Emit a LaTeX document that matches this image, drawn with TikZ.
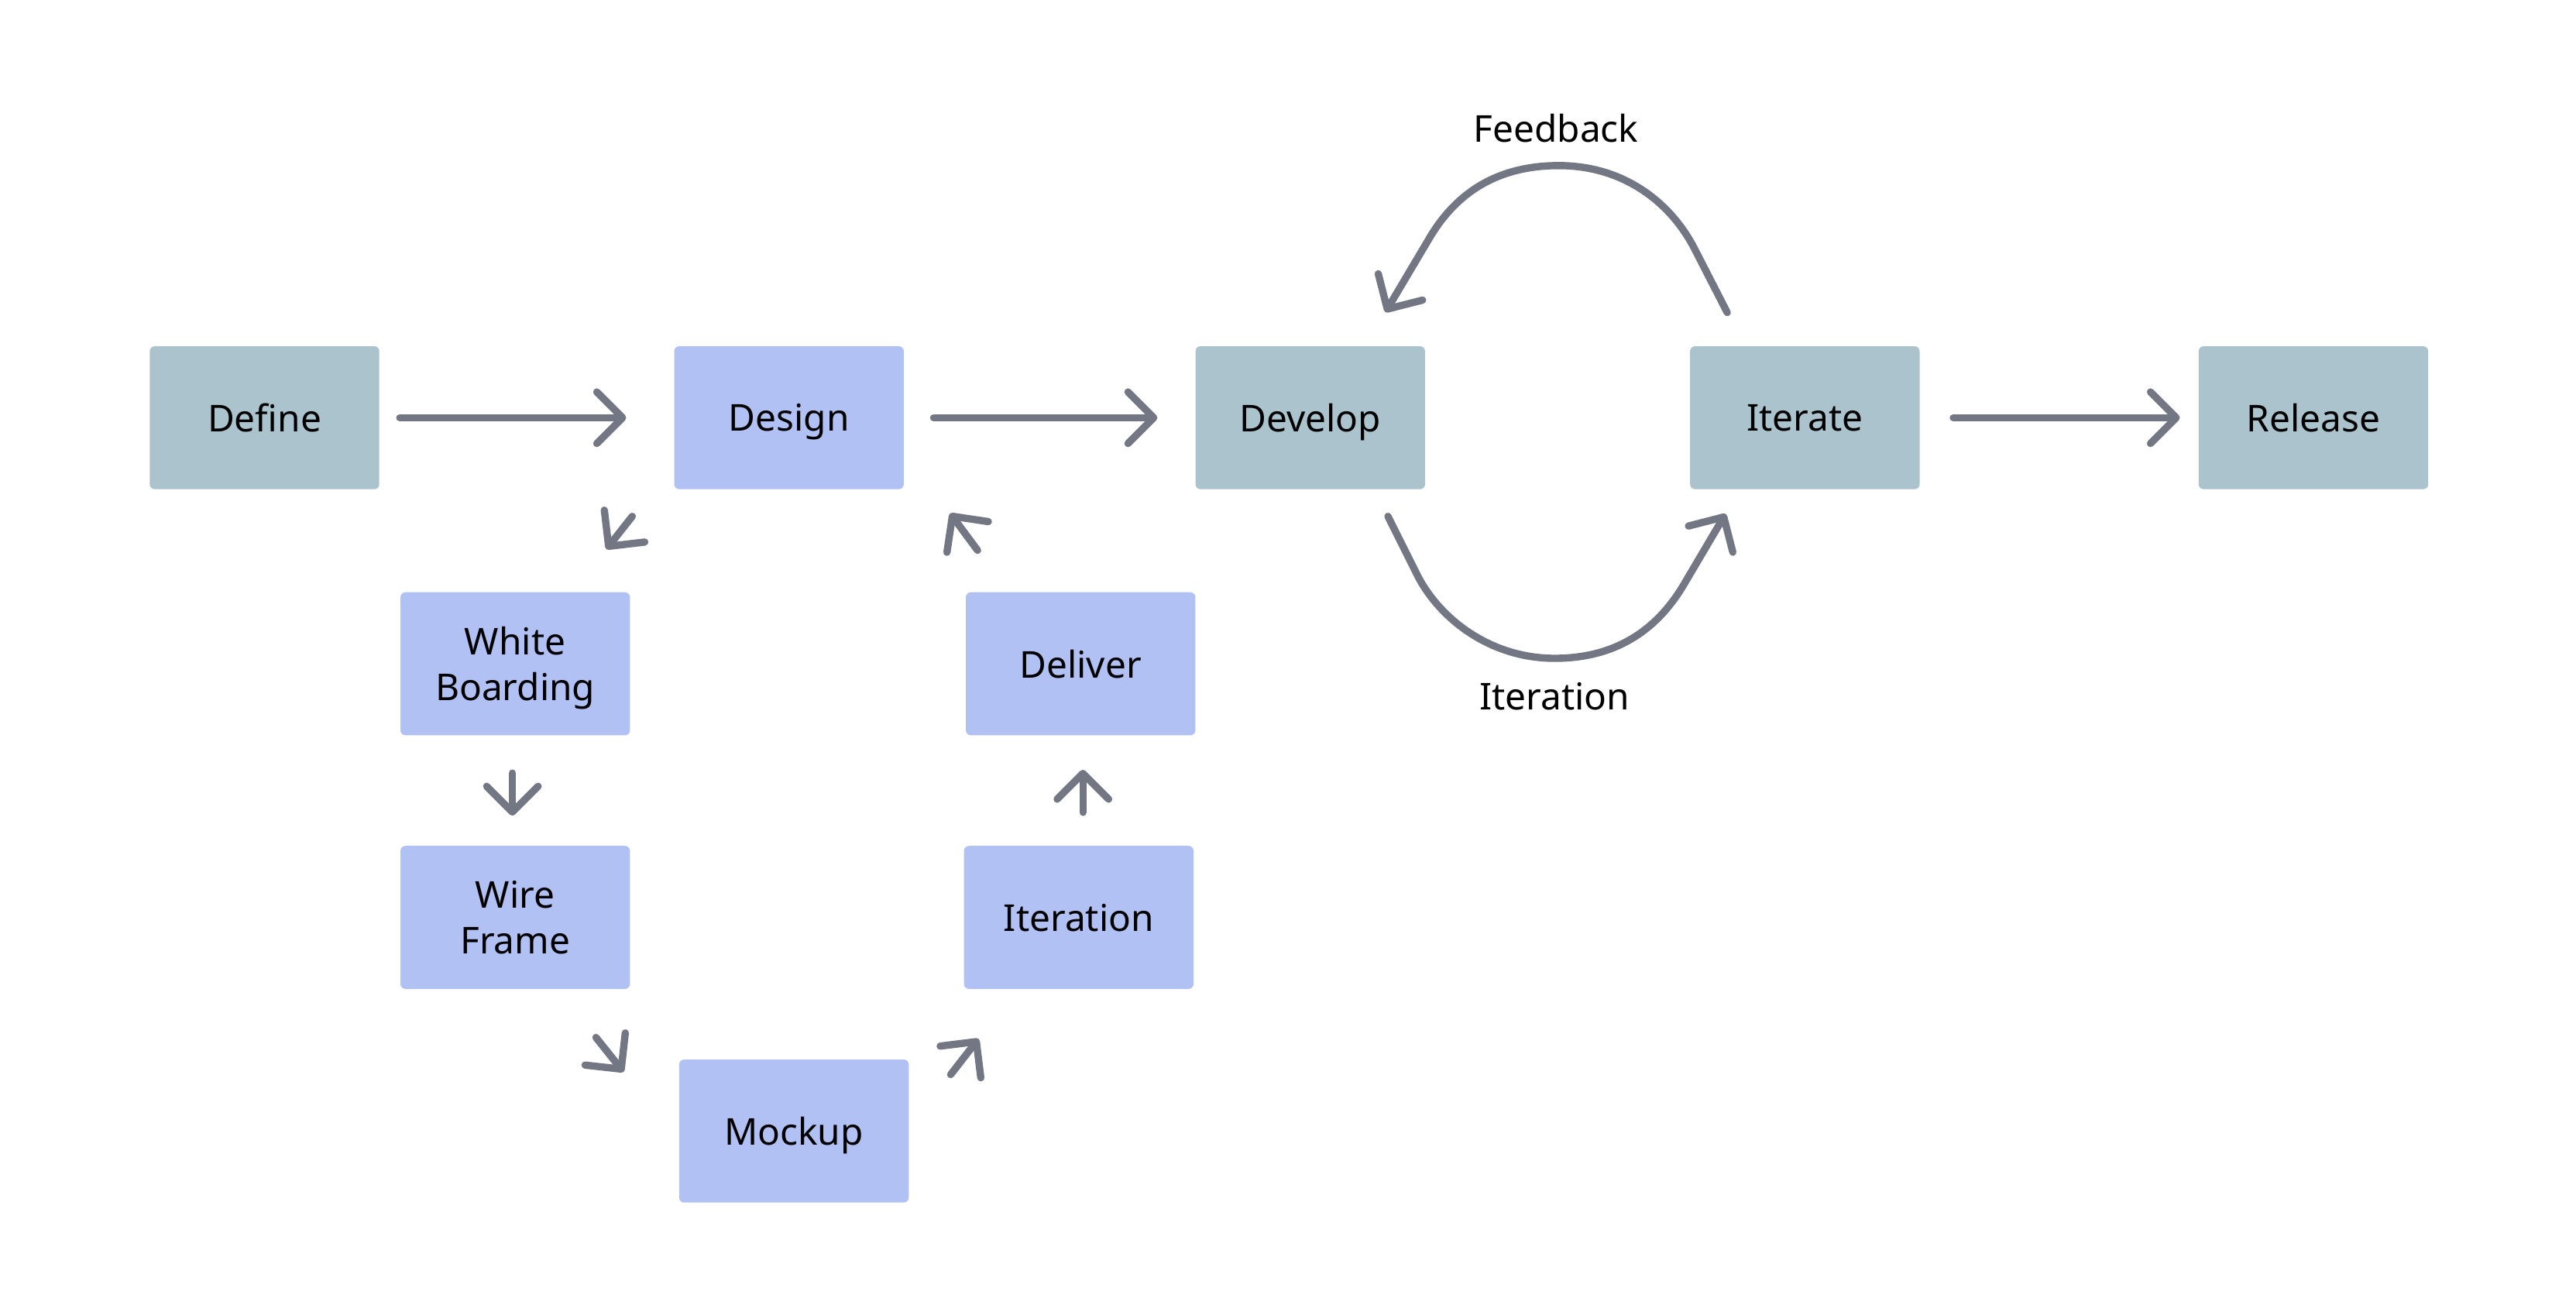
\documentclass[tikz,border=0pt]{standalone}
\usepackage{fontspec}
\setmainfont{Noto Sans}
\usetikzlibrary{arrows.meta,calc}
\definecolor{phasegray}{HTML}{AAC3CD}
\definecolor{taskblue}{HTML}{B1C1F4}
\definecolor{flowgray}{HTML}{737784}

\begin{document}
\begin{tikzpicture}[x=0.5pt,y=0.5pt,font=\fontsize{11.2}{13.8}\selectfont,
	box/.style={rectangle,rounded corners=1.5pt,minimum width=69.5pt,minimum height=43.3pt,inner sep=0pt,text depth=0pt,align=center},
	phase/.style={box,fill=phasegray},
	task/.style={box,fill=taskblue},
	flow/.style={draw=flowgray,line width=2.2pt,line cap=round,-{Straight Barb[length=7.8pt,width=15.6pt,round]}}]
	\useasboundingbox (0,0) rectangle (1560,790);

	\node[phase]	(define)	at (160.2,537)	{Define};
	\node[task]	(design)	at (477.8,537)	{Design};
	\node[phase]	(develop)	at (793.5,537)	{Develop};
	\node[phase]	(iterate)	at (1093,537)	{Iterate};
	\node[phase]	(release)	at (1401,537)	{Release};
	\node[task]	(whiteboard)	at (312,388)	{White\\Boarding};
	\node[task]	(wireframe)	at (312,234.4)	{Wire\\Frame};
	\node[task]	(mockup)	at (480.8,105)	{Mockup};
	\node[task]	(iteration)	at (653.3,234.4)	{Iteration};
	\node[task]	(deliver)	at (654.4,388)	{Deliver};
	\node		(feedback)	at (942.3,712.1)	{Feedback};
	\node		(iterlabel)	at (941.4,368.2)	{Iteration};

	% main line
	\draw[flow] ($(define.east)+(12,0)$) -- ($(design.west)+(-28.7,0)$);
	\draw[flow] ($(design.east)+(17.7,0)$) -- ($(develop.west)+(-22.7,0)$);
	\draw[flow] ($(iterate.east)+(20,0)$) -- ($(release.west)+(-11,0)$);

	% design loop
	\draw[flow] ($(design.south west)+(-25,-16)$) -- ($(whiteboard.north east)+(-14.7,25.7)$);
	\draw[flow] ($(whiteboard.south)+(-1.7,-22.5)$) -- ($(wireframe.north)+(-1.7,17.9)$);
	\draw[flow] ($(wireframe.south east)+(-21,-29)$) -- ($(mockup.north west)+(-33.3,-7.9)$);
	\draw[flow] ($(mockup.north east)+(25,-9.5)$) -- ($(iteration.south west)+(9.2,-29.8)$);
	\draw[flow] ($(iteration.north)+(2.5,19.9)$) -- ($(deliver.south)+(1.4,-20.5)$);
	\draw[flow] ($(deliver.north west)+(7.5,25)$) -- ($(design.south east)+(27.7,-14.2)$);

	% feedback and iteration loops
	\draw[flow] ($(iterate.north)+(-47,20)$) -- ++(-20,39)
		.. controls +(-14,27) and +(40,0) .. ++(-82,50)
		.. controls +(-40,0) and +(15,26) .. ++(-79,-45)
		-- ($(develop.north)+(45.5,20.2)$);
	\draw[flow] ($(develop.south)+(47,-16)$) -- ++(17,-34)
		.. controls +(13,-27) and +(-40,0) .. ++(84,-52)
		.. controls +(40,0) and +(-15,-26) .. ++(79,46)
		-- ($(iterate.south)+(-48,-14.5)$);
\end{tikzpicture}
\end{document}
